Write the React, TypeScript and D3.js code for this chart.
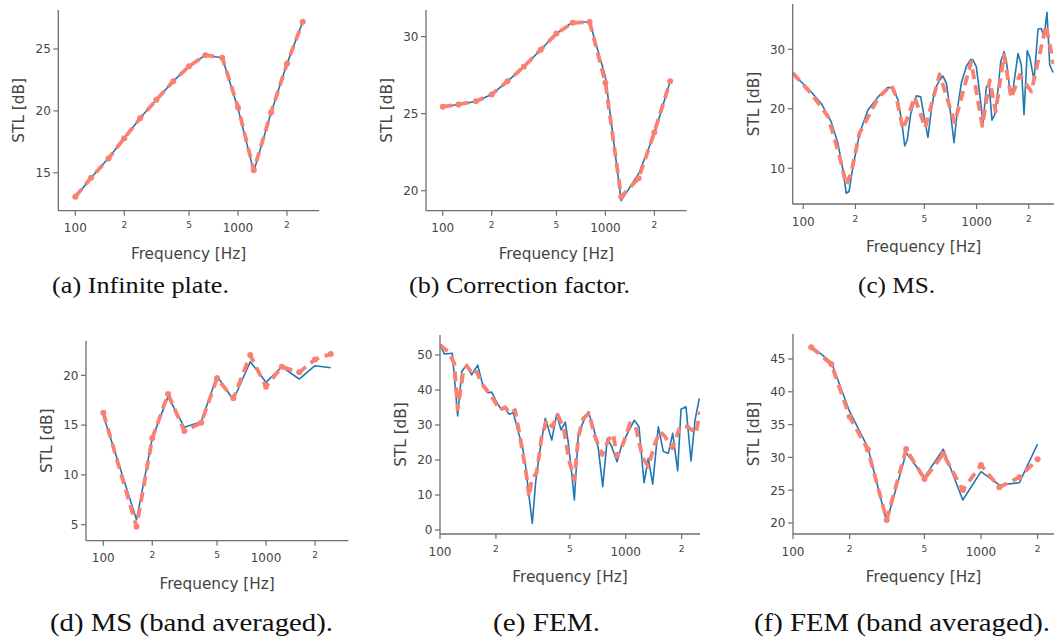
import React from "react";
import * as d3 from "d3";

// Third-octave band centre frequencies [Hz]
const BANDS = [100, 125, 160, 200, 250, 315, 400, 500, 630, 800, 1000, 1250, 1600, 2000, 2500];

// (a) Infinite plate
const PLATE_SOLID = [13.0, 14.6, 16.2, 17.8, 19.4, 20.9, 22.4, 23.6, 24.5, 24.3, 20.2, 15.1, 19.9, 23.8, 27.2];
const PLATE_DASHED = [13.06, 14.6, 16.16, 17.8, 19.4, 20.9, 22.4, 23.6, 24.5, 24.3, 20.3, 15.2, 19.9, 23.8, 27.2];

// (b) Correction factor
const CORR_SOLID = [25.45, 25.6, 25.8, 26.25, 27.1, 28.05, 29.15, 30.2, 30.95, 30.95, 27.4, 19.35, 21.1, 23.7, 27.1];
const CORR_DASHED = [25.45, 25.6, 25.8, 26.25, 27.1, 28.05, 29.15, 30.2, 30.9, 30.95, 27.0, 19.6, 20.8, 23.8, 27.1];

// (c) MS, narrow band
const MS_SOLID_F = [87, 106.4, 127, 145, 158.5, 169.5, 177, 183.5, 193.5, 211.5, 236, 270, 308, 329, 352, 371, 385, 398, 417, 449, 476, 502, 524, 548, 573, 612, 640, 669, 700, 741, 774, 816, 872, 925, 953, 996, 1042, 1089, 1138, 1179, 1227, 1272, 1329, 1378, 1439, 1484, 1552, 1622, 1734, 1811, 1877, 1961, 2033, 2144, 2262, 2362, 2448, 2548, 2642, 2760];
const MS_SOLID = [25.85, 23.45, 20.9, 17.8, 14.2, 9.7, 5.8, 6.1, 10.3, 15.9, 19.8, 22.0, 23.6, 23.45, 21.5, 17.6, 13.75, 14.75, 19.2, 22.2, 22.0, 18.1, 15.2, 19.8, 23.2, 24.8, 25.5, 24.3, 20.35, 14.3, 19.8, 24.3, 27.1, 28.3, 28.2, 27.1, 22.6, 17.6, 23.7, 24.2, 18.1, 19.0, 23.2, 27.9, 29.6, 28.2, 23.3, 23.2, 29.3, 27.4, 19.0, 29.8, 28.5, 24.8, 33.4, 33.5, 32.0, 36.2, 27.4, 26.1];
const MS_DASHED_F = [87, 111, 139, 162, 177, 189, 211, 270, 322, 344, 376, 402, 439, 505, 612, 747, 931, 1079, 1190, 1289, 1439, 1585, 1773, 2069, 2515, 2780];
const MS_DASHED = [26.0, 22.6, 18.7, 12.0, 7.2, 9.2, 15.9, 21.8, 24.0, 22.0, 16.6, 18.7, 22.0, 16.8, 25.8, 17.7, 27.9, 17.1, 24.8, 19.5, 29.0, 21.8, 25.7, 22.9, 34.0, 27.5];

// (d) MS, band averaged
const MS_BANDS = [100, 160, 200, 250, 315, 400, 500, 630, 800, 1000, 1250, 1600, 2000, 2500];
const MSB_SOLID = [16.0, 5.5, 13.67, 17.86, 14.78, 15.34, 19.93, 17.52, 21.37, 19.3, 20.86, 19.63, 20.97, 20.77];
const MSB_DASHED = [16.24, 4.79, 13.67, 18.12, 14.4, 15.24, 19.7, 17.69, 22.04, 18.86, 20.86, 20.3, 21.6, 22.14];

// (e) FEM, narrow band
const FEM_SOLID_F = [100, 105.5, 116.5, 124.5, 130.9, 139.3, 148.1, 159.6, 171.1, 180.6, 189.8, 200.3, 213.1, 223.9, 235.3, 248.1, 262.1, 277.5, 289.4, 298.9, 314.1, 327.6, 345.6, 369, 399.6, 425, 448.3, 473, 491, 512, 529, 556, 591, 629, 669, 712, 752, 796, 841, 898, 952, 1033, 1113, 1179, 1255, 1323, 1398, 1498, 1594, 1696, 1791, 1905, 1985, 2112, 2247, 2362, 2491];
const FEM_SOLID = [52.9, 50.3, 50.5, 32.6, 45.2, 47.3, 44.3, 47.1, 40.8, 39.2, 39.4, 36.9, 34.5, 34.8, 33.1, 33.5, 28.6, 24.0, 18.1, 11.4, 1.9, 13.8, 22.9, 31.9, 25.7, 33.1, 28.6, 30.8, 24.8, 16.2, 8.6, 27.6, 30.9, 33.8, 29.5, 23.3, 12.4, 26.2, 23.8, 19.5, 24.3, 28.1, 31.4, 29.5, 13.5, 20.5, 13.1, 29.5, 22.4, 21.9, 27.6, 16.9, 34.5, 35.2, 19.7, 31.4, 37.6];
const FEM_DASHED_F = [100, 110.8, 119.4, 124.5, 133.5, 139.3, 151.1, 157.6, 167.7, 189.8, 210.4, 223.9, 238.2, 253.4, 269.7, 293, 301.6, 311.8, 331.7, 352.8, 375.5, 402.5, 430.3, 461.3, 495, 529, 556, 591, 634, 683, 748, 806, 858, 894, 971, 1055, 1132, 1229, 1323, 1438, 1530, 1628, 1782, 1961, 2158, 2391, 2512];
const FEM_DASHED = [52.9, 50.9, 47.6, 34.5, 45.2, 46.9, 44.3, 45.2, 41.9, 38.1, 34.3, 35.1, 33.3, 34.3, 26.7, 15.2, 9.5, 14.3, 16.4, 26.7, 31.4, 29.5, 32.9, 29.5, 20.0, 14.3, 26.7, 31.9, 33.3, 26.7, 21.4, 25.7, 27.4, 20.9, 24.8, 30.5, 29.5, 20.9, 18.1, 24.8, 28.1, 26.7, 23.3, 29.5, 29.5, 27.6, 33.8];

// (f) FEM, band averaged
const FEM_BANDS = [125, 160, 200, 250, 315, 400, 500, 630, 800, 1000, 1250, 1600, 2000];
const FEMB_SOLID = [46.98, 44.5, 37.0, 31.54, 20.2, 30.72, 26.97, 31.24, 23.5, 27.82, 25.8, 26.14, 32.04];
const FEMB_DASHED = [46.8, 44.2, 36.2, 31.2, 20.46, 31.28, 26.7, 30.52, 25.03, 28.84, 25.44, 26.97, 29.71];

// Log-axis ticks and their labels
const X_TICKS = [100, 200, 500, 1000, 2000];
const X_TICK_LABELS = ["100", "2", "5", "1000", "2"];

const CAPTIONS = [
  "(a) Infinite plate.",
  "(b) Correction factor.",
  "(c) MS.",
  "(d) MS (band averaged).",
  "(e) FEM.",
  "(f) FEM (band averaged).",
];

const Y_TICKS = [
  [15, 20, 25],
  [20, 25, 30],
  [10, 20, 30],
  [5, 10, 15, 20],
  [0, 10, 20, 30, 40, 50],
  [20, 25, 30, 35, 40, 45],
];

const zip = (f: number[], v: number[]) => f.map((x, i) => [x, v[i]] as [number, number]);

const SERIES = [
  { solid: zip(BANDS, PLATE_SOLID), dashed: zip(BANDS, PLATE_DASHED), markers: true },
  { solid: zip(BANDS, CORR_SOLID), dashed: zip(BANDS, CORR_DASHED), markers: true },
  { solid: zip(MS_SOLID_F, MS_SOLID), dashed: zip(MS_DASHED_F, MS_DASHED), markers: false },
  { solid: zip(MS_BANDS, MSB_SOLID), dashed: zip(MS_BANDS, MSB_DASHED), markers: true },
  { solid: zip(FEM_SOLID_F, FEM_SOLID), dashed: zip(FEM_DASHED_F, FEM_DASHED), markers: false },
  { solid: zip(FEM_BANDS, FEMB_SOLID), dashed: zip(FEM_BANDS, FEMB_DASHED), markers: true },
];

// Plot boxes, axis ranges and caption placement for each subfigure
const LAYOUT = [
  { box: [58.3, 319, 10, 210.7], xd: [78.6, 3147], yd: [11.94, 28.15], cap: [52, 177, 293, 23.5] },
  { box: [426, 686.7, 10, 210.7], xd: [78.9, 3160], yd: [18.7, 31.73], cap: [409, 221, 293, 23.5] },
  { box: [792.7, 1054.6, 4, 204], xd: [86.9, 2819], yd: [4.0, 37.61], cap: [858, 77, 293, 23.5] },
  { box: [86, 348.3, 340.7, 540.7], xd: [78.3, 3204], yd: [3.39, 23.48], cap: [50, 283, 631, 26] },
  { box: [440, 700, 335, 534], xd: [100, 2512], yd: [-1.14, 55.71], cap: [493, 107, 631, 26] },
  { box: [793, 1054, 334, 534], xd: [100, 2445], yd: [18.32, 48.81], cap: [754, 296, 631, 26] },
];

const BLUE = "#1f77b4";
const SALMON = "#fa8072";
const AXIS = "#6e6e6e";
const TEXT = "#444";
const SANS = "'DejaVu Sans', Verdana, sans-serif";
const SERIF = "'Liberation Serif', 'Times New Roman', serif";

function Panel({ idx }: { idx: number }) {
  const L = LAYOUT[idx];
  const S = SERIES[idx];
  const [x0, x1, y0, y1] = L.box;
  const x = d3.scaleLog().domain(L.xd).range([x0, x1]);
  const y = d3.scaleLinear().domain(L.yd).range([y1, y0]);
  const line = d3
    .line<[number, number]>()
    .x((d) => x(d[0]))
    .y((d) => y(d[1]));
  const clipId = `clip-${idx}`;
  const tickLen = 5;
  const [cx, cw, cy, cs] = L.cap;

  return (
    <g>
      <defs>
        <clipPath id={clipId}>
          <rect x={x0} y={y0} width={x1 - x0} height={y1 - y0} />
        </clipPath>
      </defs>

      <g clipPath={`url(#${clipId})`}>
        <path d={line(S.solid) || ""} fill="none" stroke={BLUE} strokeWidth={1.6} strokeLinejoin="round" />
        <path
          d={line(S.dashed) || ""}
          fill="none"
          stroke={SALMON}
          strokeWidth={3.8}
          strokeDasharray="10,6"
          strokeLinejoin="round"
        />
        {S.markers &&
          S.dashed.map((d, i) => <circle key={i} cx={x(d[0])} cy={y(d[1])} r={3} fill={SALMON} />)}
      </g>

      {/* axes */}
      <line x1={x0} x2={x1} y1={y1} y2={y1} stroke={AXIS} strokeWidth={1.3} />
      <line x1={x0} x2={x0} y1={y0} y2={y1} stroke={AXIS} strokeWidth={1.3} />

      {X_TICKS.map((t, i) => {
        const px = x(t);
        if (px < x0 - 0.5 || px > x1 + 0.5) return null;
        const major = X_TICK_LABELS[i].length > 1;
        return (
          <g key={`xt${i}`}>
            <line x1={px} x2={px} y1={y1} y2={y1 + tickLen} stroke={AXIS} strokeWidth={1.2} />
            <text
              x={px}
              y={y1 + (major ? 21.5 : 17.6)}
              textAnchor="middle"
              fontFamily={SANS}
              fontSize={major ? 12 : 9}
              fill={TEXT}
            >
              {X_TICK_LABELS[i]}
            </text>
          </g>
        );
      })}

      {Y_TICKS[idx].map((t) => {
        const py = y(t);
        return (
          <g key={`yt${t}`}>
            <line x1={x0 - tickLen} x2={x0} y1={py} y2={py} stroke={AXIS} strokeWidth={1.2} />
            <text
              x={x0 - tickLen - 2.5}
              y={py}
              dy="0.36em"
              textAnchor="end"
              fontFamily={SANS}
              fontSize={12}
              fill={TEXT}
            >
              {t}
            </text>
          </g>
        );
      })}

      <text
        x={(x0 + x1) / 2}
        y={y1 + 48}
        textAnchor="middle"
        fontFamily={SANS}
        fontSize={15.3}
        fill={TEXT}
      >
        Frequency [Hz]
      </text>
      <text
        transform={`translate(${x0 - 39.5},${(y0 + y1) / 2}) rotate(-90)`}
        textAnchor="middle"
        dy="0.36em"
        fontFamily={SANS}
        fontSize={15.3}
        fill={TEXT}
      >
        STL [dB]
      </text>

      <text
        x={cx}
        y={cy}
        fontFamily={SERIF}
        fontSize={cs}
        fill="#111"
        textLength={cw}
        lengthAdjust="spacingAndGlyphs"
      >
        {CAPTIONS[idx]}
      </text>
    </g>
  );
}

export default function App() {
  return (
    <div style={{ position: "fixed", left: 0, top: 0, background: "#fff" }}>
      <svg width={1054} height={644} viewBox="0 0 1054 644" style={{ display: "block" }}>
        <rect width={1054} height={644} fill="#fff" />
        {LAYOUT.map((_, i) => (
          <Panel key={i} idx={i} />
        ))}
      </svg>
    </div>
  );
}
